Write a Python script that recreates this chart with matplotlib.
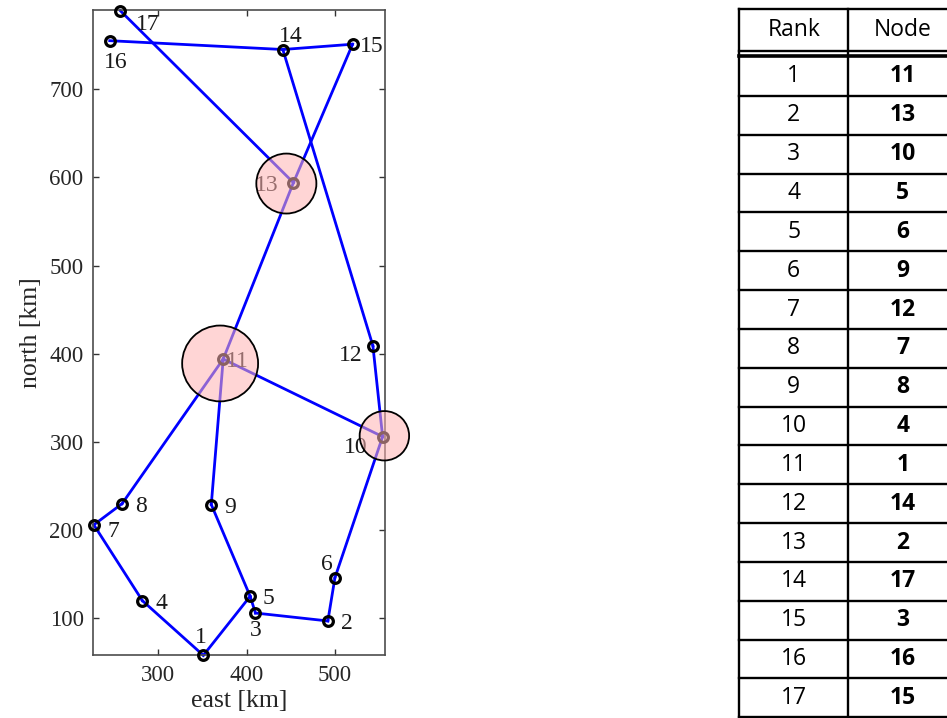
import matplotlib
matplotlib.use("Agg")
import matplotlib.pyplot as plt
from matplotlib.patches import Circle

plt.rcParams['font.family'] = ['Liberation Serif', 'DejaVu Serif']

# node coordinates [km]
node_ids = list(range(1, 18))
east = [351, 492, 410, 282, 404, 500, 227, 259, 360, 554, 373.5, 543, 453, 441, 520, 245, 257]
north = [58, 97, 106, 120, 125, 146, 206, 230, 229, 306, 394, 409, 594, 745, 751, 755, 789]

links = [(17, 13), (16, 14), (14, 15), (15, 13), (13, 11), (14, 12), (12, 10),
         (11, 10), (11, 8), (11, 9), (8, 7), (7, 4), (4, 1), (1, 5), (5, 9),
         (5, 3), (3, 2), (2, 6), (6, 10)]

# highest ranked nodes get a shaded disc
hub_nodes = [11, 13, 10]
hub_east = [370, 445, 556]
hub_north = [389, 593, 307]
hub_radius = [43, 34, 28]

ranks = list(range(1, 18))
ranked_nodes = [11, 13, 10, 5, 6, 9, 12, 7, 8, 4, 1, 14, 2, 17, 3, 16, 15]

# where each node number sits relative to its marker (points)
label_offsets = {1: (-1.5, 14.5), 2: (13.5, 0), 3: (0, -11), 4: (14, 0), 5: (13.5, 0),
                 6: (-6, 11), 7: (14, -3), 8: (13.5, 0), 9: (13.5, 0), 10: (-19, -6),
                 11: (10, 0), 12: (-16, -5), 13: (-19.5, 0), 14: (6, 11.5),
                 15: (14, 0), 16: (4, -14), 17: (19.5, -8)}

W, H = 947, 718
fig = plt.figure(figsize=(W / 100, H / 100), dpi=100)

# ---- network map ----
ax = fig.add_axes([93.3 / W, 1 - 655 / H, (385 - 93.3) / W, (655 - 10) / H])
pos = {n: (x, y) for n, x, y in zip(node_ids, east, north)}

for a, b in links:
    ax.plot([pos[a][0], pos[b][0]], [pos[a][1], pos[b][1]],
            color='#0000ff', lw=2.0, zorder=2, clip_on=False)

ax.plot(east, north, 'o', ms=7, mfc='none', mec='k', mew=2.3,
        zorder=3, clip_on=False)

for n in node_ids:
    dx, dy = label_offsets[n]
    ax.annotate(str(n), pos[n], xytext=(dx, dy), textcoords='offset points',
                ha='center', va='center_baseline', fontsize=17, zorder=4,
                color='0.1')

for x, y, r in zip(hub_east, hub_north, hub_radius):
    ax.add_patch(Circle((x, y), r, facecolor=(1, 0.7, 0.7, 0.55),
                        edgecolor='k', lw=1.3, zorder=5, clip_on=False))

ax.set_xlim(226.4, 556.7)
ax.set_ylim(58.4, 789.8)
ax.set_xticks([300, 400, 500])
ax.set_yticks([100, 200, 300, 400, 500, 600, 700])
ax.tick_params(direction='in', top=True, right=True, length=4.5, width=1,
               labelsize=16.5, pad=7, colors='0.2', labelcolor='0.15')
for s in ax.spines.values():
    s.set_linewidth(1.2)
    s.set_color('0.3')
ax.set_xlabel('east [km]', fontsize=18.5, labelpad=3, color='0.15')
ax.set_ylabel('north [km]', fontsize=18.5, labelpad=5, color='0.15')

# ---- ranking table ----
tax = fig.add_axes([739.3 / W, 1 - 717.3 / H, 218 / W, 708 / H])
header_h = 1.23
tax.set_xlim(0, 2)
tax.set_ylim(header_h + len(ranks), 0)
tax.axis('off')

lw = 1.7
bottom = header_h + len(ranks)
for x in (0, 1, 2):
    tax.plot([x, x], [0, bottom], color='k', lw=lw, clip_on=False)
tax.plot([0, 2], [0, 0], color='k', lw=lw, clip_on=False)
tax.plot([0, 2], [bottom, bottom], color='k', lw=lw, clip_on=False)
tax.plot([0, 2], [1.075, 1.075], color='k', lw=1.7, clip_on=False)
tax.plot([0, 2], [1.19, 1.19], color='k', lw=2.6, clip_on=False)
for k in range(1, len(ranks)):
    tax.plot([0, 2], [header_h + k, header_h + k], color='k', lw=lw, clip_on=False)

tfont = ['Open Sans', 'DejaVu Sans']
tsize = 16.5
tax.text(0.5, 0.54, 'Rank', ha='center', va='center', fontsize=tsize, family=tfont)
tax.text(1.5, 0.54, 'Node', ha='center', va='center', fontsize=tsize, family=tfont)
for i, (r, n) in enumerate(zip(ranks, ranked_nodes)):
    yc = header_h + i + 0.5
    tax.text(0.5, yc, str(r), ha='center', va='center', fontsize=tsize, family=tfont)
    tax.text(1.5, yc, str(n), ha='center', va='center', fontsize=tsize,
             family=tfont, fontweight='bold')

fig.savefig('out.png', dpi=100)
